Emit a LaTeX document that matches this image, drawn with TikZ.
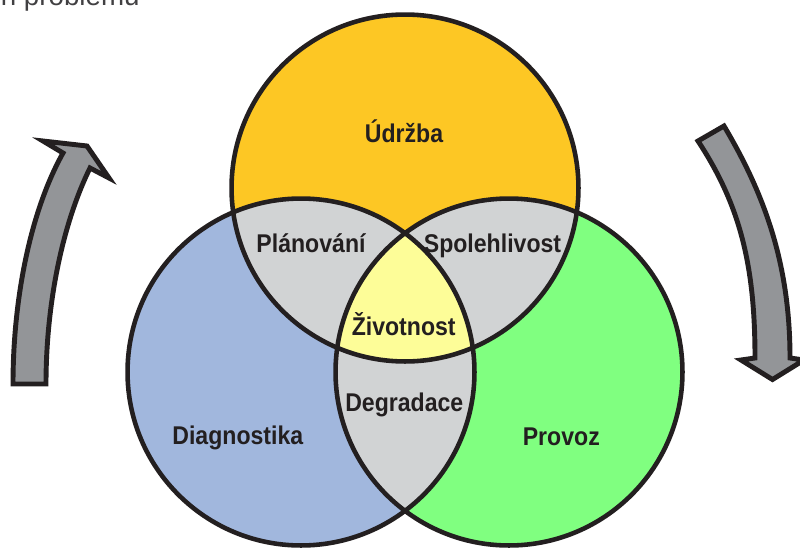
\documentclass[tikz,border=0pt]{standalone}
\usepackage{fontspec}
\newfontfamily\labfont[FakeStretch=0.9]{Liberation Sans}
\newfontfamily\topfont{Liberation Sans}
\definecolor{strokecol}{RGB}{35,31,32}
\definecolor{udrzbacol}{RGB}{253,199,36}
\definecolor{diagcol}{RGB}{161,183,221}
\definecolor{provozcol}{RGB}{128,255,128}
\definecolor{overlapcol}{RGB}{209,211,212}
\definecolor{corecol}{RGB}{253,253,152}
\definecolor{arrowcol}{RGB}{147,149,152}
\definecolor{topcol}{RGB}{65,64,66}
\tikzset{
  ring/.style={draw=strokecol, line width=2.6pt},
  lab/.style={inner sep=0pt, anchor=base, text=strokecol, font=\labfont\bfseries\fontsize{14.6pt}{16pt}\selectfont},
  bigarrow/.style={fill=arrowcol, draw=strokecol, line width=2.8pt, line join=miter, miter limit=10},
}
\begin{document}
\begin{tikzpicture}[x=0.02cm, y=-0.02cm]
\useasboundingbox (0,0) rectangle (800,551);
\coordinate (cT) at (405,188);
\coordinate (cL) at (301,372);
\coordinate (cR) at (509,372);
\def\R{3.47cm}
% base fills
\fill[udrzbacol] (cT) circle[radius=\R];
\fill[diagcol] (cL) circle[radius=\R];
\fill[provozcol] (cR) circle[radius=\R];
% pairwise overlaps
\begin{scope}
  \clip (cT) circle[radius=\R];
  \fill[overlapcol] (cL) circle[radius=\R];
  \fill[overlapcol] (cR) circle[radius=\R];
\end{scope}
\begin{scope}
  \clip (cL) circle[radius=\R];
  \fill[overlapcol] (cR) circle[radius=\R];
\end{scope}
% triple overlap
\begin{scope}
  \clip (cT) circle[radius=\R];
  \clip (cL) circle[radius=\R];
  \fill[corecol] (cR) circle[radius=\R];
\end{scope}
% outlines
\draw[ring] (cT) circle[radius=\R];
\draw[ring] (cL) circle[radius=\R];
\draw[ring] (cR) circle[radius=\R];
% labels
\node[lab] (udrzba) at (404,142.3) {Údržba};
\node[lab] (planovani) at (311,252.7) {Plánování};
\node[lab] (spolehlivost) at (492.5,252.7) {Spolehlivost};
\node[lab] (zivotnost) at (403.7,335) {Životnost};
\node[lab] (degradace) at (404.3,411.7) {Degradace};
\node[lab] (diagnostika) at (237.8,444.5) {Diagnostika};
\node[lab] (provoz) at (561.3,445.5) {Provoz};
% arrows
\filldraw[bigarrow] (13,384) .. controls (13,300) and (30,212) .. (63,153)
  -- (43,141) -- (87,146) -- (109,178) -- (90,168)
  .. controls (62,225) and (46,305) .. (46,384) -- cycle;
\filldraw[bigarrow] (698,141) -- (724,126) .. controls (765,195) and (790,265) .. (790,358)
  -- (804,360) -- (772.5,379.5) -- (741,360) -- (755,358)
  .. controls (755,265) and (740,205) .. (698,141) -- cycle;
% cut-off heading text at the top edge (as in the reference)
\node[inner sep=0pt, anchor=base east, text=topcol, font=\topfont\fontsize{15.8pt}{17pt}\selectfont] (heading) at (140,5.5) {n problému};
\end{tikzpicture}
\end{document}
